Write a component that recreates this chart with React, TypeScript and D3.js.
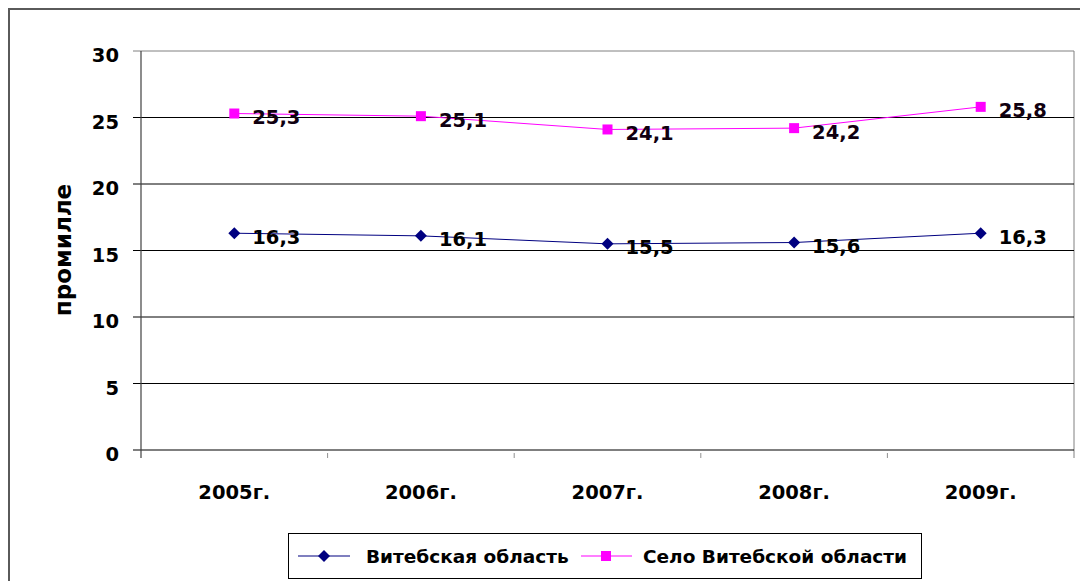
import React from 'react';
import * as d3 from 'd3';

const years = ['2005г.', '2006г.', '2007г.', '2008г.', '2009г.'];
const oblast = [16.3, 16.1, 15.5, 15.6, 16.3];
const selo = [25.3, 25.1, 24.1, 24.2, 25.8];
const yTicks = [0, 5, 10, 15, 20, 25, 30];
const seriesNames = ['Витебская область', 'Село Витебской области'];

const fmt = (v: number) => String(v).replace('.', ',');

const App = () => {
  const svgWidth = 1080;
  const svgHeight = 581;
  const margin = { left: 141, top: 51, right: 6, bottom: 131 };
  const font = '"DejaVu Sans", sans-serif';

  const x = d3.scaleBand()
    .domain(years)
    .range([margin.left, svgWidth - margin.right]);
  const y = d3.scaleLinear()
    .domain([0, 30])
    .range([svgHeight - margin.bottom, margin.top]);

  const cx = (i: number) => (x(years[i]) as number) + x.bandwidth() / 2;
  const line = d3.line<number>().x((d, i) => cx(i)).y(d => y(d));

  // square turned 45 degrees, like the excel diamond marker
  const diamond = d3.symbol().type(d3.symbolSquare).size(72);
  const x0 = margin.left;
  const x1 = svgWidth - margin.right;
  const yBottom = y(0);
  const yTop = y(30);

  // boundaries between categories
  const bounds = years.map((d, i) => x(d) as number).concat([x1]);

  return (
    <svg width={svgWidth} height={svgHeight} style={{ position: 'absolute', left: 0, top: 0 }}>
      <rect x={0} y={0} width={svgWidth} height={svgHeight} fill="#fff" />
      {/* chart area frame */}
      <rect x={9} y={9} width={svgWidth + 10} height={svgHeight + 10} fill="none" stroke="#5a5a5a" strokeWidth={2} />

      {/* plot area */}
      <line x1={x1} x2={x1} y1={yTop} y2={yBottom + 8} stroke="#808080" />
      {yTicks.map(t => (
        <g key={t}>
          <line x1={x0 - 8} x2={x1} y1={y(t)} y2={y(t)} stroke={t === 30 ? '#808080' : '#000'} strokeWidth={t === 0 ? 1.2 : 1} />
          <text x={119} y={y(t) + 11} textAnchor="end" fontFamily={font} fontWeight="bold" fontSize={19.5} fill="#000">{t}</text>
        </g>
      ))}
      <line x1={x0} x2={x0} y1={yTop} y2={yBottom + 8} stroke="#404040" strokeWidth={1.2} />
      {bounds.slice(1, -1).map((b, i) => (
        <line key={i} x1={b} x2={b} y1={yBottom + 3} y2={yBottom + 8} stroke="#909090" />
      ))}

      {years.map((d, i) => (
        <text key={d} x={cx(i)} y={499} textAnchor="middle" fontFamily={font} fontWeight="bold" fontSize={19.5} fill="#000">{d}</text>
      ))}

      <text transform={`translate(71,250) rotate(-90)`} textAnchor="middle" fontFamily={font} fontWeight="bold" fontSize={23} fill="#000">промилле</text>

      {/* series */}
      <path d={line(selo) as string} fill="none" stroke="#ff00ff" strokeWidth={1} />
      <path d={line(oblast) as string} fill="none" stroke="#000080" strokeWidth={1} />
      {selo.map((v, i) => (
        <rect key={'s' + i} x={cx(i) - 5} y={y(v) - 5} width={10} height={10} fill="#ff00ff" />
      ))}
      {oblast.map((v, i) => (
        <path key={'o' + i} d={diamond() as string} transform={`translate(${cx(i)},${y(v)}) rotate(45)`} fill="#000080" />
      ))}
      {selo.map((v, i) => (
        <text key={'sl' + i} x={cx(i) + 18} y={y(v) + 10.5} fontFamily={font} fontWeight="bold" fontSize={19.5} fill="#100010">{fmt(v)}</text>
      ))}
      {oblast.map((v, i) => (
        <text key={'ol' + i} x={cx(i) + 18} y={y(v) + 10.5} fontFamily={font} fontWeight="bold" fontSize={19.5} fill="#000">{fmt(v)}</text>
      ))}

      {/* legend */}
      <rect x={288.5} y={533.5} width={633} height={45} fill="#fff" stroke="#000" strokeWidth={1} />
      <line x1={298} x2={350} y1={556} y2={556} stroke="#000080" strokeWidth={1.2} />
      <path d={diamond() as string} transform="translate(324,556) rotate(45)" fill="#000080" />
      <text x={366} y={563} fontFamily={font} fontWeight="bold" fontSize={18.5} fill="#000">{seriesNames[0]}</text>
      <line x1={581} x2={632} y1={556} y2={556} stroke="#ff00ff" strokeWidth={1.2} />
      <rect x={601} y={551} width={10} height={10} fill="#ff00ff" />
      <text x={643} y={563} fontFamily={font} fontWeight="bold" fontSize={18.5} fill="#000">{seriesNames[1]}</text>
    </svg>
  );
};

export default App;
